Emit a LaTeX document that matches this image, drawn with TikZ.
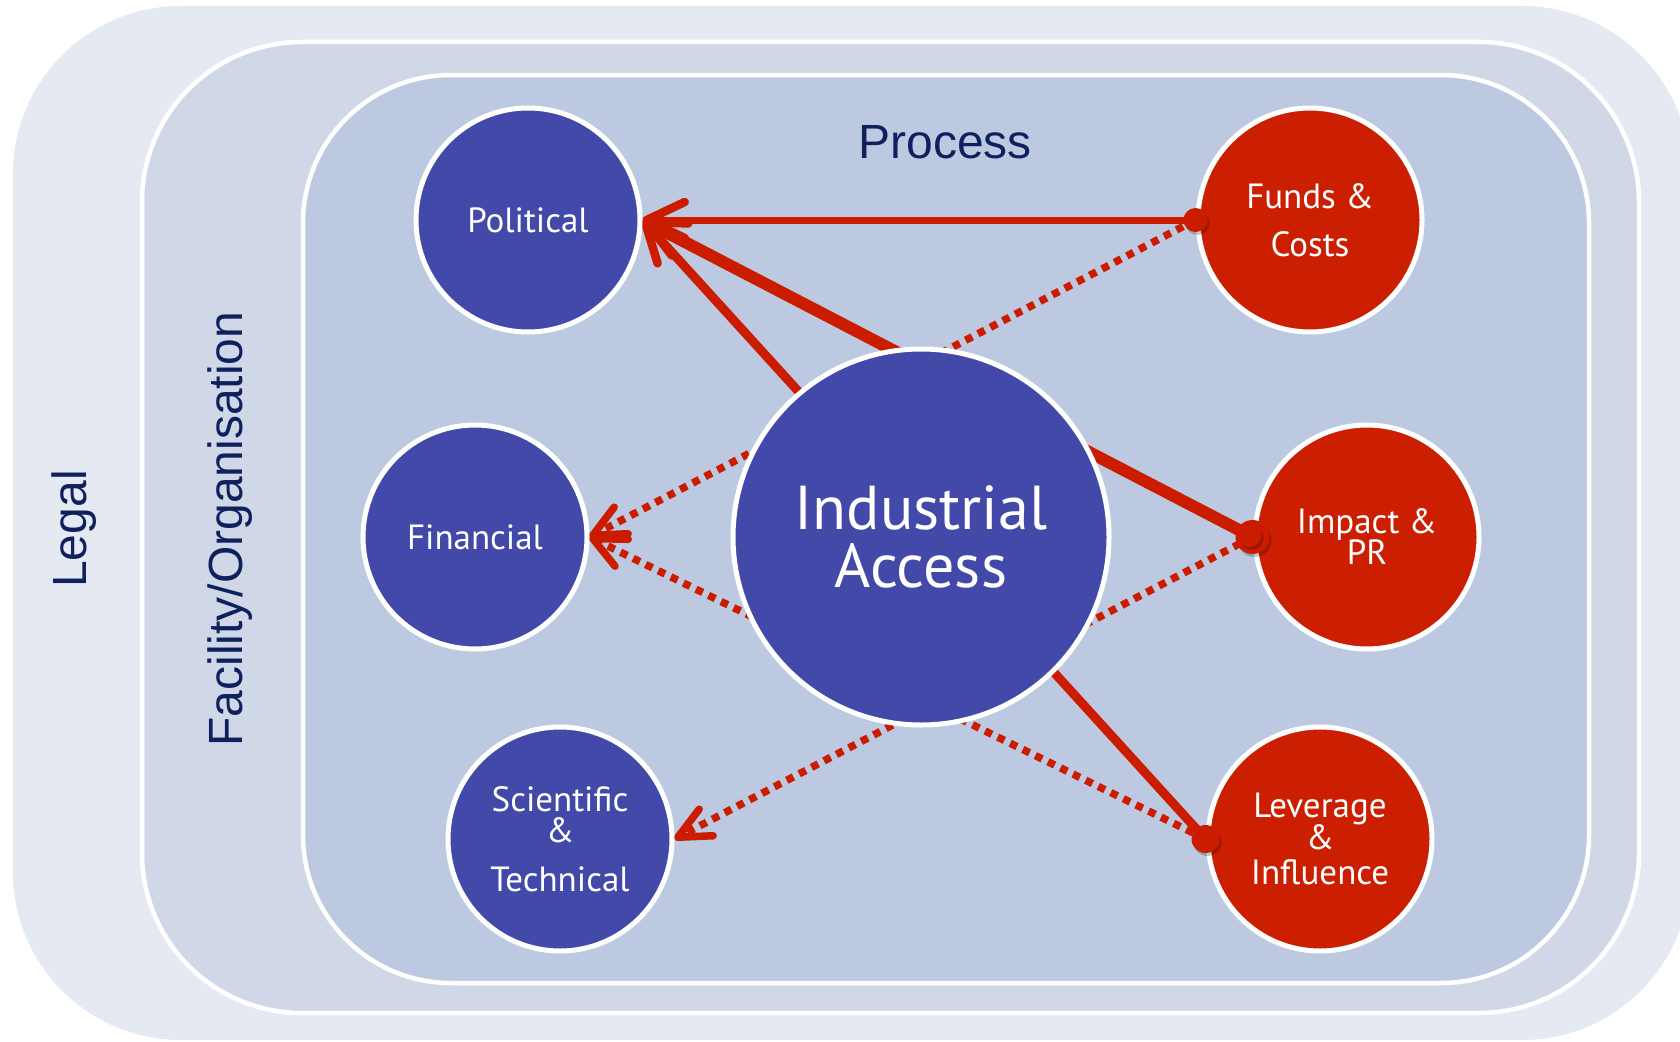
\documentclass[tikz,border=0pt]{standalone}
\usepackage{fontspec}
\setmainfont{PT Sans}
\newfontfamily\arialfont{Liberation Sans}
\usetikzlibrary{arrows.meta}
\pgfdeclarelayer{back}
\pgfdeclarelayer{links}
\pgfsetlayers{back,links,main}
\definecolor{legalbg}{RGB}{228,233,242}
\definecolor{facbg}{RGB}{208,216,231}
\definecolor{procbg}{RGB}{188,201,224}
\definecolor{bluefill}{RGB}{67,73,168}
\definecolor{redfill}{RGB}{204,30,0}
\definecolor{linkred}{RGB}{204,28,0}
\definecolor{navytext}{RGB}{14,32,94}
\begin{document}
\begin{tikzpicture}[x=1pt,y=-1pt,
  panel/.style={draw=white, line width=4.5pt},
  circnode/.style={circle, draw=white, line width=5pt, minimum size=224pt, inner sep=0pt,
     text=white, align=center, font=\fontsize{35}{34}\selectfont},
  bluenode/.style={circnode, fill=bluefill},
  rednode/.style={circnode, fill=redfill},
  layertext/.style={text=navytext, font=\arialfont\fontsize{48}{48}\selectfont, inner sep=0pt},
  solidlink/.style={draw=linkred, line cap=round,
     -{Straight Barb[length=38pt,width=36pt,line width=8.5pt,round]}},
  dotlink/.style={draw=linkred, line width=7.5pt, dash pattern=on 7.5pt off 6.5pt,
     -{Straight Barb[length=32pt,width=30pt,line width=7.5pt,round]}},
  enddot/.style={fill=linkred},
  dotshadow/.style={fill=black, opacity=0.22}
]
\useasboundingbox (0,0) rectangle (1680,1041);
\clip (0,0) rectangle (1680,1041);

\begin{pgfonlayer}{back}
  \fill[legalbg, rounded corners=168pt] (13,6) rectangle (1690,1040);
  \path[panel, fill=facbg, rounded corners=160pt] (142,42) rectangle (1639,1013);
  \path[panel, fill=procbg, rounded corners=148pt] (303,75) rectangle (1589,983);
\end{pgfonlayer}

% layer labels
\node[layertext, anchor=base] (process) at (945,158) {Process};
\node[layertext, rotate=90] (facility) at (230,529) {Facility/Organisation};
\node[layertext, rotate=90] (legal) at (74,529) {Legal};

% circles
\node[bluenode] (pol) at (528,220) {Political};
\node[bluenode] (fin) at (475,537) {Financial};
\node[bluenode] (sci) at (560,839) {Scientific\\[-3pt]\&\\[15pt]Technical};
\node[bluenode, minimum size=376pt, font=\fontsize{62}{58}\selectfont] (ia) at (921,537) {Industrial\\Access};
\node[rednode] (fund) at (1310,220) {Funds \&\\[14pt]Costs};
\node[rednode] (imp) at (1367,537) {Impact \&\\[-3pt]PR};
\node[rednode] (lev) at (1320,839) {Leverage\\[-1.5pt]\&\\[1pt]Influence};

% connectors (behind the circles)
\begin{pgfonlayer}{links}
  \draw[dotlink] (fund.west) -- (fin.east);
  \draw[dotlink] (lev.west) -- (fin.east);
  \draw[dotlink] (imp.west) -- (sci.east);
  \draw[solidlink, line width=7pt] (fund.west) -- (pol.east);
  \draw[solidlink, line width=12pt] (imp.west) -- (pol.east);
  \draw[solidlink, line width=9pt] (lev.west) -- (pol.east);
\end{pgfonlayer}

% start dots
\fill[dotshadow] ([shift={(2,3)}]fund.west) circle (12pt);
\fill[enddot] (fund.west) circle (12pt);
\fill[dotshadow] ([shift={(2,3)}]imp.west) circle (17pt);
\fill[enddot] (imp.west) circle (17pt);
\fill[dotshadow] ([shift={(-1,1)}]imp.west) circle (12pt);
\fill[enddot] ([shift={(-3,-2)}]imp.west) circle (12pt);
\fill[dotshadow] ([shift={(2,3)}]lev.west) circle (14pt);
\fill[enddot] (lev.west) circle (14pt);
\end{tikzpicture}
\end{document}
